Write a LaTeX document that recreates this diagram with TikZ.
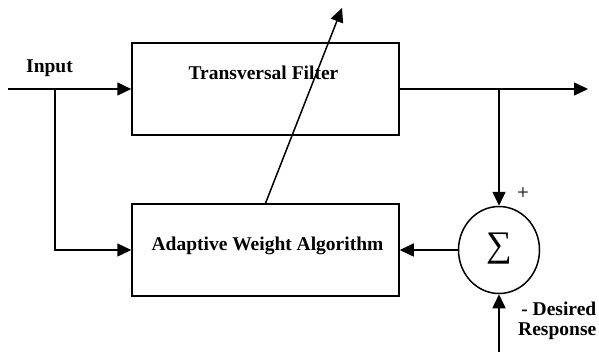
\documentclass[tikz,border=0pt]{standalone}
\usepackage{fontspec}
\setmainfont{Liberation Serif}
\usetikzlibrary{arrows.meta,shapes.geometric}

\begin{document}
\begin{tikzpicture}[x=1pt,y=-1pt,
    line width=1.5pt,
    blockbox/.style={draw, rectangle, minimum width=267pt, minimum height=92pt, inner sep=0pt},
    sumnode/.style={draw, ellipse, minimum width=81pt, minimum height=87pt, inner sep=0pt},
    lbl/.style={font=\fontsize{19.5}{21.5}\selectfont\bfseries, inner sep=0pt},
    sig/.style={-{Triangle[length=14pt,width=13pt]}}]
  \useasboundingbox (0,0) rectangle (599,353);

  % blocks
  \node[blockbox] (tf)  at (265.5,89)  {};
  \node[blockbox] (awa) at (265.5,250) {};
  \node[sumnode]  (sum) at (499,250)   {};

  % block captions
  \node[lbl, anchor=base] (tftext)  at (263.5,79.5) {Transversal Filter};
  \node[lbl, anchor=base] (awatext) at (267.5,250.5)  {Adaptive Weight Algorithm};
  \node[inner sep=0pt, font=\fontsize{36}{36}\selectfont] (sigma) at (499,249) {∑};

  % terminals and branch points
  \coordinate (in)   at (8,89);
  \coordinate (out)  at (588,89);
  \coordinate (tap)  at (55,89);
  \coordinate (err)  at (499,89);
  \coordinate (des)  at (499,352);
  \coordinate (adj)  at (342,8);

  % signal paths
  \draw[sig] (in) -- (tf.west);
  \draw[sig] (tap) |- (awa.west);
  \draw[sig] (tf.east) -- (out);
  \draw[sig] (err) -- (sum.north);
  \draw[sig] (sum.west) -- (awa.east);
  \draw[sig] (des) -- (sum.south);
  \draw[sig] (awa.north) -- (adj);

  % signal labels
  \node[lbl, anchor=base] (inlabel) at (49.5,72.5) {Input};
  \node[inner sep=0pt, font=\fontsize{21}{21}\selectfont] (plus) at (523,194) {+};
  \node[lbl, anchor=north east, align=right] (deslabel) at (597,301) {- Desired\\[-1pt]Response};
\end{tikzpicture}
\end{document}
